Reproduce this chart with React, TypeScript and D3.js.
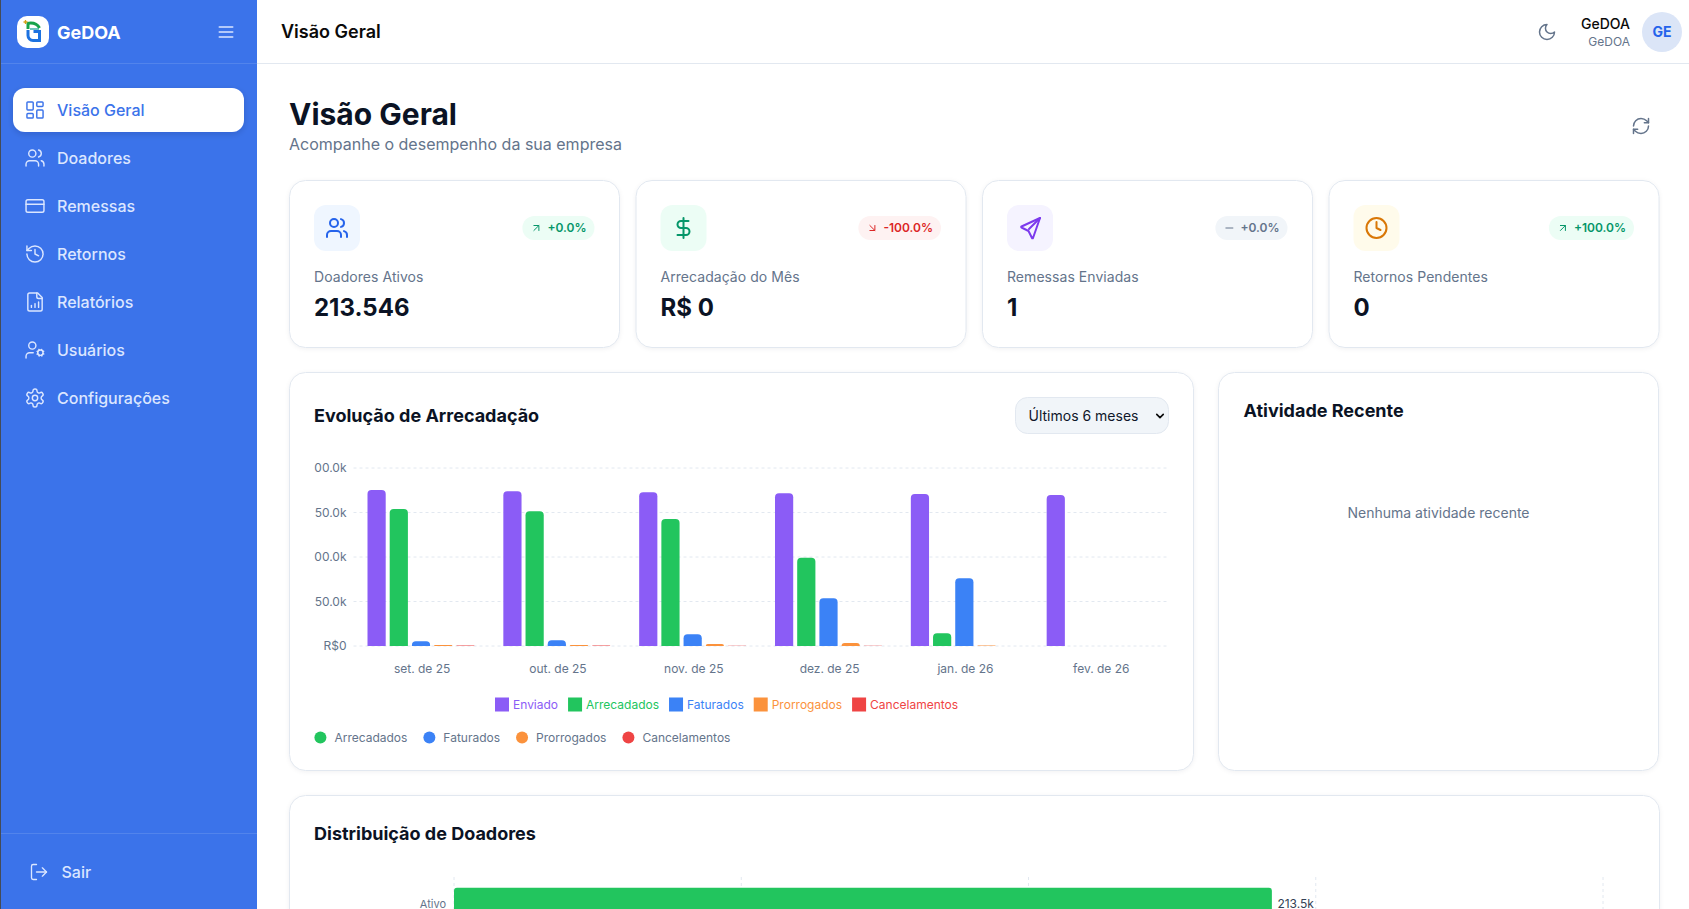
import React, { useEffect, useRef } from "react";
import * as d3 from "d3";

const MONTHS = ["set. de 25", "out. de 25", "nov. de 25", "dez. de 25", "jan. de 26", "fev. de 26"];
const SERIES = ["Enviado", "Arrecadados", "Faturados", "Prorrogados", "Cancelamentos"];
const ENVIADO = [175300, 173800, 172700, 171500, 170800, 169700];
const ARRECADADOS = [153900, 151300, 142700, 99200, 14200, 0];
const FATURADOS = [5200, 6400, 13100, 53600, 76000, 0];
const PRORROGADOS = [1000, 1000, 2200, 3400, 600, 0];
const CANCELAMENTOS = [600, 500, 400, 400, 100, 0];
const SERIES_VALUES = [ENVIADO, ARRECADADOS, FATURADOS, PRORROGADOS, CANCELAMENTOS];
const SERIES_COLORS = ["#8b5cf6", "#22c55e", "#3b82f6", "#fb923c", "#ef4444"];
const Y_TICKS = [0, 50000, 100000, 150000, 200000];
// the long labels are cut off on the left in the original
const Y_LABELS = ["R$0", "50.0k", "00.0k", "50.0k", "00.0k"];

const DIST_NAMES = ["Ativo"];
const DIST_VALUES = [213546];
const DIST_LABELS = ["213.5k"];
const DIST_TICKS = [0, 75000, 150000, 225000, 300000];

const NAV_ITEMS = ["Visão Geral", "Doadores", "Remessas", "Retornos", "Relatórios", "Usuários", "Configurações"];
const NAV_ICONS = ["dash", "users", "card", "history", "report", "usercog", "gear"];

const KPI_LABELS = ["Doadores Ativos", "Arrecadação do Mês", "Remessas Enviadas", "Retornos Pendentes"];
const KPI_VALUES = ["213.546", "R$ 0", "1", "0"];
const KPI_DELTAS = ["+0.0%", "-100.0%", "+0.0%", "+100.0%"];
const KPI_TRENDS = ["up", "down", "flat", "up"];
const KPI_ICONS = ["users", "dollar", "send", "clock"];
const KPI_ICON_COLORS = ["#2563eb", "#059669", "#7c3aed", "#d97706"];
const KPI_ICON_BG = ["#eff6ff", "#ecfdf5", "#f5f3ff", "#fffbeb"];

const TREND_COLORS: Record<string, [string, string]> = {
  up: ["#ecfdf5", "#059669"],
  down: ["#fef2f2", "#dc2626"],
  flat: ["#f1f5f9", "#64748b"]
};

const ICONS: Record<string, React.ReactNode> = {
  dash: (<><rect x="3" y="3" width="7" height="9" rx="1" /><rect x="14" y="3" width="7" height="5" rx="1" /><rect x="14" y="12" width="7" height="9" rx="1" /><rect x="3" y="16" width="7" height="5" rx="1" /></>),
  users: (<><path d="M16 21v-2a4 4 0 0 0-4-4H6a4 4 0 0 0-4 4v2" /><circle cx="9" cy="7" r="4" /><path d="M22 21v-2a4 4 0 0 0-3-3.87" /><path d="M16 3.13a4 4 0 0 1 0 7.75" /></>),
  card: (<><rect x="2" y="5" width="20" height="14" rx="2" /><path d="M2 10h20" /></>),
  history: (<><path d="M3 12a9 9 0 1 0 9-9 9.75 9.75 0 0 0-6.74 2.74L3 8" /><path d="M3 3v5h5" /><path d="M12 7v5l4 2" /></>),
  report: (<><path d="M15 2H6a2 2 0 0 0-2 2v16a2 2 0 0 0 2 2h12a2 2 0 0 0 2-2V7Z" /><path d="M14 2v4a2 2 0 0 0 2 2h4" /><path d="M8 18v-2" /><path d="M12 18v-4" /><path d="M16 18v-6" /></>),
  usercog: (<><circle cx="18" cy="15" r="3" /><circle cx="9" cy="7" r="4" /><path d="M10 15H6a4 4 0 0 0-4 4v2" /><path d="m21.7 16.4-.9-.3" /><path d="m15.2 13.9-.9-.3" /><path d="m16.6 18.7.3-.9" /><path d="m19.1 12.2.3-.9" /><path d="m19.6 18.7-.4-1" /><path d="m16.8 12.3-.4-1" /><path d="m14.3 16.6 1-.4" /><path d="m20.7 13.8 1-.4" /></>),
  gear: (<><path d="M12.22 2h-.44a2 2 0 0 0-2 2v.18a2 2 0 0 1-1 1.73l-.43.25a2 2 0 0 1-2 0l-.15-.08a2 2 0 0 0-2.73.73l-.22.38a2 2 0 0 0 .73 2.73l.15.1a2 2 0 0 1 1 1.72v.51a2 2 0 0 1-1 1.74l-.15.09a2 2 0 0 0-.73 2.73l.22.38a2 2 0 0 0 2.73.73l.15-.08a2 2 0 0 1 2 0l.43.25a2 2 0 0 1 1 1.73V20a2 2 0 0 0 2 2h.44a2 2 0 0 0 2-2v-.18a2 2 0 0 1 1-1.73l.43-.25a2 2 0 0 1 2 0l.15.08a2 2 0 0 0 2.73-.73l.22-.39a2 2 0 0 0-.73-2.73l-.15-.08a2 2 0 0 1-1-1.74v-.5a2 2 0 0 1 1-1.74l.15-.09a2 2 0 0 0 .73-2.73l-.22-.38a2 2 0 0 0-2.73-.73l-.15.08a2 2 0 0 1-2 0l-.43-.25a2 2 0 0 1-1-1.73V4a2 2 0 0 0-2-2z" /><circle cx="12" cy="12" r="3" /></>),
  logout: (<><path d="M9 21H5a2 2 0 0 1-2-2V5a2 2 0 0 1 2-2h4" /><path d="m16 17 5-5-5-5" /><path d="M21 12H9" /></>),
  menu: (<><path d="M4 6h16" /><path d="M4 12h16" /><path d="M4 18h16" /></>),
  moon: (<path d="M12 3a6 6 0 0 0 9 9 9 9 0 1 1-9-9Z" />),
  refresh: (<><path d="M3 12a9 9 0 0 1 9-9 9.75 9.75 0 0 1 6.74 2.74L21 8" /><path d="M21 3v5h-5" /><path d="M21 12a9 9 0 0 1-9 9 9.75 9.75 0 0 1-6.74-2.74L3 16" /><path d="M8 16H3v5" /></>),
  dollar: (<><path d="M12 2v20" /><path d="M17 5H9.5a3.5 3.5 0 0 0 0 7h5a3.5 3.5 0 0 1 0 7H6" /></>),
  send: (<><path d="m22 2-7 20a.55.55 0 0 1-1 0l-3.5-7-7-3.5a.55.55 0 0 1 0-1L22 2" /><path d="M22 2 11 13" /></>),
  clock: (<><circle cx="12" cy="12" r="10" /><path d="M12 6v6l4 2" /></>),
  up: (<><path d="M7 7h10v10" /><path d="M7 17 17 7" /></>),
  down: (<><path d="m7 7 10 10" /><path d="M17 7v10H7" /></>),
  flat: (<path d="M5 12h14" />),
  chevron: (<path d="m6 9 6 6 6-6" />)
};

function Icon({ name, x, y, size, color, sw = 2 }: { name: string; x: number; y: number; size: number; color: string; sw?: number }) {
  return (
    <g transform={`translate(${x - size / 2},${y - size / 2}) scale(${size / 24})`} fill="none" stroke={color} strokeWidth={sw} strokeLinecap="round" strokeLinejoin="round">
      {ICONS[name]}
    </g>
  );
}

const FONT = "Inter, 'Noto Sans', sans-serif";
const measureCtx = document.createElement("canvas").getContext("2d")!;
function textWidth(s: string, font = `12px Inter`) {
  measureCtx.font = font;
  return measureCtx.measureText(s).width;
}

function topRounded(x: number, y: number, w: number, h: number, r: number) {
  const rr = Math.min(r, h, w / 2);
  return `M${x},${y + h}V${y + rr}Q${x},${y} ${x + rr},${y}H${x + w - rr}Q${x + w},${y} ${x + w},${y + rr}V${y + h}Z`;
}

const x0 = d3.scaleBand<string>().domain(MONTHS).range([353.5, 1168.5]);
const x1 = d3.scaleBand<string>().domain(SERIES).range([14, 121]).paddingInner(0.18);
const y = d3.scaleLinear().domain([0, 200000]).range([646, 468]);
const distX = d3.scaleLinear().domain([0, 300000]).range([454, 1603]);
const distY = d3.scaleBand<string>().domain(DIST_NAMES).range([886, 922]).padding(0.05);

function Card({ x, y, w, h, r = 16 }: { x: number; y: number; w: number; h: number; r?: number }) {
  return <rect x={x + 0.5} y={y + 0.5} width={w} height={h} rx={r} fill="#fff" stroke="#e2e8f0" style={{ filter: "drop-shadow(0 1px 2px rgba(15,23,42,0.06))" }} />;
}

export default function App() {
  const yAxisRef = useRef<SVGGElement | null>(null);
  const xAxisRef = useRef<SVGGElement | null>(null);

  useEffect(() => {
    const ya = d3.axisLeft(y).tickValues(Y_TICKS).tickSize(0).tickPadding(7).tickFormat((_, i) => Y_LABELS[i]);
    const xa = d3.axisBottom(x0).tickSize(0).tickPadding(18.5);
    for (const [ref, axis] of [[yAxisRef, ya], [xAxisRef, xa]] as any[]) {
      const g = d3.select(ref.current);
      g.call(axis);
      g.select(".domain").remove();
      g.selectAll("text").attr("fill", "#64748b").attr("font-size", 12).attr("font-family", FONT);
    }
  }, []);

  let legendX = 495;
  const legend = SERIES.map((s, i) => {
    const item = { name: s, color: SERIES_COLORS[i], x: legendX };
    legendX += 14 + 4 + textWidth(s) + 10;
    return item;
  });
  let dotX = 314.4;
  const dots = SERIES.slice(1).map((s, i) => {
    const item = { name: s, color: SERIES_COLORS[i + 1], x: dotX };
    dotX += 12 + 8 + textWidth(s) + 16;
    return item;
  });

  return (
    <div style={{ position: "fixed", left: 0, top: 0, width: 1689, height: 909, overflow: "hidden", background: "#fff" }}>
      <svg width={1689} height={909} fontFamily={FONT} style={{ display: "block" }}>
        <defs>
          <filter id="navShadow" x="-10%" y="-30%" width="120%" height="170%">
            <feDropShadow dx="0" dy="2" stdDeviation="3" floodColor="#0f172a" floodOpacity="0.15" />
          </filter>
        </defs>
        <rect width={1689} height={909} fill="#fff" />

        {/* sidebar */}
        <rect width={257} height={909} fill="#3b73ea" />
        <rect width={1} height={909} fill="#444b57" />
        <line x1={1} x2={257} y1={63.5} y2={63.5} stroke="#ffffff" strokeOpacity={0.12} />
        <line x1={1} x2={257} y1={833.5} y2={833.5} stroke="#ffffff" strokeOpacity={0.12} />
        <rect x={17} y={16} width={32} height={32} rx={10} fill="#fff" />
        <path d="M27 23.5c5-1 10 0 12.5 4.5" fill="none" stroke="#16a34a" strokeWidth={3} />
        <path d="M28 23v6" fill="none" stroke="#16a34a" strokeWidth={3} />
        <path d="M28 30v5.500a5 5 0 0 0 5 5h6.500v-9h-6" fill="none" stroke="#1d72e0" strokeWidth={3} />
        <path d="M30 29h9" fill="none" stroke="#0e9f8f" strokeWidth={1.2} />
        <path d="M23.500 22h4M25.500 20v4" stroke="#d4a017" strokeWidth={1.300} />
        <text x={57} y={38.5} fontSize={18} fontWeight={700} fill="#fff">GeDOA</text>
        <Icon name="menu" x={226} y={32} size={20} color="#dbe6ff" />

        <rect x={13} y={88} width={231} height={44} rx={12} fill="#fff" filter="url(#navShadow)" />
        {NAV_ITEMS.map((item, i) => {
          const cy = 110 + i * 48;
          const color = i === 0 ? "#3b73ea" : "#dbe6ff";
          return (
            <g key={item}>
              <Icon name={NAV_ICONS[i]} x={35} y={cy} size={21.5} color={color} sw={1.6} />
              <text x={57} y={cy + 5.5} fontSize={16} fontWeight={500} fill={color}>{item}</text>
            </g>
          );
        })}
        <Icon name="logout" x={39} y={872} size={20} color="#dbe6ff" sw={1.6} />
        <text x={61.5} y={877.5} fontSize={16} fontWeight={500} fill="#dbe6ff">Sair</text>

        {/* top bar */}
        <line x1={257} x2={1689} y1={63.5} y2={63.5} stroke="#e2e8f0" />
        <text x={281} y={38} fontSize={18} fontWeight={600} fill="#0a0a0a">Visão Geral</text>
        <Icon name="moon" x={1547} y={32} size={20} color="#64748b" sw={1.8} />
        <text x={1630} y={29} textAnchor="end" fontSize={14} fontWeight={500} fill="#0a0a0a">GeDOA</text>
        <text x={1630} y={46} textAnchor="end" fontSize={12} fill="#64748b">GeDOA</text>
        <circle cx={1662} cy={32} r={20} fill="#dbe5f7" />
        <text x={1662} y={37} textAnchor="middle" fontSize={14} fontWeight={700} fill="#2563eb">GE</text>

        {/* page heading */}
        <text x={289} y={125} fontSize={30} fontWeight={700} fill="#0b1324">Visão Geral</text>
        <text x={289} y={150} fontSize={16} fill="#64748b">Acompanhe o desempenho da sua empresa</text>
        <Icon name="refresh" x={1641} y={126} size={20} color="#64748b" sw={1.8} />

        {/* KPI cards */}
        {KPI_LABELS.map((label, i) => {
          const cx = 289 + i * 346.5;
          const [bg, fg] = TREND_COLORS[KPI_TRENDS[i]];
          const deltaW = textWidth(KPI_DELTAS[i], "600 12px Inter");
          const badgeW = deltaW + 33;
          const badgeX = cx + 305.5 - badgeW;
          return (
            <g key={label}>
              <Card x={cx} y={180} w={330} h={167} />
              <rect x={cx + 25} y={205} width={46} height={46} rx={12} fill={KPI_ICON_BG[i]} />
              <Icon name={KPI_ICONS[i]} x={cx + 48} y={228} size={24} color={KPI_ICON_COLORS[i]} />
              <rect x={badgeX} y={216} width={badgeW} height={24} rx={12} fill={bg} />
              <Icon name={KPI_TRENDS[i]} x={badgeX + 14} y={228} size={12} color={fg} />
              <text x={badgeX + 25} y={232} fontSize={12} fontWeight={600} fill={fg}>{KPI_DELTAS[i]}</text>
              <text x={cx + 25} y={282} fontSize={14} letterSpacing={0.05} fill="#64748b">{label}</text>
              <text x={cx + 25} y={315.5} fontSize={24} fontWeight={700} fill="#0b1324">{KPI_VALUES[i]}</text>
            </g>
          );
        })}

        {/* evolution card */}
        <Card x={289} y={372} w={904} h={398} />
        <text x={314} y={422} fontSize={18} fontWeight={700} fill="#0b1324">Evolução de Arrecadação</text>
        <rect x={1015.5} y={397.5} width={153} height={36} rx={12} fill="#f1f5f9" stroke="#e2e8f0" />
        <text x={1028.5} y={421} fontSize={14} fill="#0f172a">Últimos 6 meses</text>
        <Icon name="chevron" x={1160} y={416} size={13} color="#0a0a0a" sw={3} />

        {Y_TICKS.map((t) => (
          <line key={t} x1={353.5} x2={1167} y1={y(t)} y2={y(t)} stroke="#e2e8f0" strokeDasharray="3 3" />
        ))}
        <g ref={yAxisRef} transform="translate(353.5,0)" />
        <g ref={xAxisRef} transform="translate(0.7,646)" />
        {MONTHS.map((m, mi) => (
          <g key={m} transform={`translate(${x0(m)},0)`}>
            {SERIES.map((s, si) => {
              const v = SERIES_VALUES[si][mi];
              if (!v) return null;
              return <path key={s} d={topRounded(x1(s)!, y(v), x1.bandwidth(), y(0) - y(v), 4)} fill={SERIES_COLORS[si]} />;
            })}
          </g>
        ))}

        {legend.map((l) => (
          <g key={l.name}>
            <rect x={l.x} y={697.5} width={14} height={14} fill={l.color} />
            <text x={l.x + 18} y={708.8} fontSize={12} fill={l.color}>{l.name}</text>
          </g>
        ))}
        {dots.map((l) => (
          <g key={l.name}>
            <circle cx={l.x + 6} cy={737.5} r={6} fill={l.color} />
            <text x={l.x + 20} y={741.5} fontSize={12} fill="#64748b">{l.name}</text>
          </g>
        ))}

        {/* recent activity */}
        <Card x={1218} y={372} w={440} h={398} />
        <text x={1243.5} y={417} fontSize={18} fontWeight={700} fill="#0b1324">Atividade Recente</text>
        <text x={1438.5} y={518} textAnchor="middle" fontSize={14} fill="#64748b">Nenhuma atividade recente</text>

        {/* distribution */}
        <Card x={289} y={795} w={1370} h={200} />
        <text x={314} y={839.5} fontSize={18} fontWeight={700} fill="#0b1324">Distribuição de Doadores</text>
        {DIST_TICKS.map((t) => (
          <line key={t} x1={distX(t)} x2={distX(t)} y1={877} y2={930} stroke="#e2e8f0" strokeDasharray="3 3" />
        ))}
        {DIST_NAMES.map((n, i) => (
          <g key={n}>
            <text x={446} y={distY(n)! + distY.bandwidth() / 2 + 4} textAnchor="end" fontSize={11} fill="#64748b">{n}</text>
            <rect x={distX(0)} y={distY(n)} width={distX(DIST_VALUES[i]) - distX(0)} height={distY.bandwidth()} rx={3} fill="#22c55e" />
            <text x={distX(DIST_VALUES[i]) + 5.5} y={distY(n)! + distY.bandwidth() / 2 + 4} fontSize={12} fill="#334155">{DIST_LABELS[i]}</text>
          </g>
        ))}
      </svg>
    </div>
  );
}
